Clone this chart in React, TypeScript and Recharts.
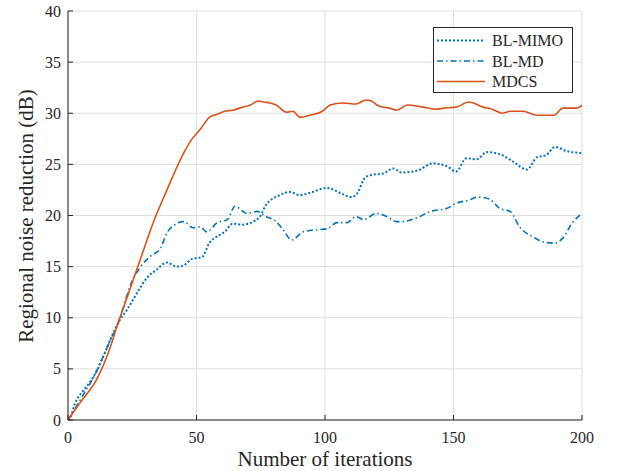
import React from 'react';
import {
  LineChart,
  Line,
  XAxis,
  YAxis,
  CartesianGrid,
} from 'recharts';

// iteration / value pairs
const mimoIter = [0, 1, 2.7, 6, 8.5, 11, 13.7, 17.6, 20.2, 23, 26.8, 30.7, 34.5, 38.4, 42.3, 44.8, 48.7, 52, 55, 59, 61, 64, 68, 72, 74.7, 77, 82.5, 86.4, 90, 94, 100.7, 106, 110, 112, 116, 119, 122.6, 126.5, 130, 136, 142, 147.5, 151, 155, 159, 163, 168, 173, 178.6, 182.5, 186, 189.5, 194, 200];
const mimoVal = [0, 0.3, 1.6, 2.9, 3.7, 4.7, 6.2, 8.5, 9.8, 10.8, 12.4, 13.9, 14.7, 15.4, 15.0, 15.1, 15.8, 15.9, 17.3, 18.1, 18.4, 19.2, 19.1, 19.4, 19.9, 21.0, 22.0, 22.3, 22.0, 22.2, 22.7, 22.2, 21.8, 22.0, 23.8, 24.0, 24.1, 24.6, 24.2, 24.4, 25.1, 24.8, 24.3, 25.6, 25.5, 26.2, 26.0, 25.3, 24.5, 25.7, 25.9, 26.7, 26.3, 26.1];

const mdIter = [0, 3, 6, 10, 14, 17, 19, 21.5, 24, 28, 32, 36, 38.5, 41, 45, 48.7, 51.4, 54, 58, 62, 65, 69.6, 73.5, 77, 81, 84, 87, 91.5, 97, 100.7, 104.7, 108.6, 112, 115, 120, 124, 128, 130, 136, 141, 147.5, 151, 156, 159.5, 164, 168, 172, 176, 181, 185, 189, 192.6, 196, 200];
const mdVal = [0, 1.2, 2.5, 4.2, 6.4, 8.1, 9.1, 11.0, 13.0, 14.9, 16.0, 16.8, 18.3, 19.0, 19.4, 18.8, 18.9, 18.4, 19.3, 19.6, 20.9, 20.2, 20.4, 19.9, 19.4, 18.5, 17.6, 18.4, 18.6, 18.7, 19.3, 19.3, 19.9, 19.6, 20.2, 19.9, 19.4, 19.4, 19.8, 20.4, 20.7, 21.2, 21.5, 21.8, 21.6, 20.7, 20.4, 18.8, 17.9, 17.4, 17.3, 17.8, 19.2, 20.2];

const mdcsIter = [0, 5, 11, 16, 19.5, 23, 28, 33, 38.5, 45, 48, 51.4, 55, 58, 61, 64, 68, 71, 74, 76, 78.6, 81, 85, 87.5, 90.3, 94, 99, 102, 107, 112, 116, 118, 121, 125, 128, 132, 138, 143.5, 146, 151, 156, 161.5, 165, 169, 172, 177, 182.5, 189, 192.6, 198, 200];
const mdcsVal = [0, 1.8, 3.9, 6.8, 9.5, 12.0, 15.6, 19.2, 22.5, 26.1, 27.4, 28.4, 29.6, 29.9, 30.2, 30.3, 30.6, 30.8, 31.2, 31.1, 31.0, 30.8, 30.1, 30.2, 29.6, 29.8, 30.2, 30.8, 31.0, 30.9, 31.3, 31.2, 30.7, 30.5, 30.3, 30.8, 30.6, 30.4, 30.5, 30.6, 31.1, 30.6, 30.4, 30.0, 30.2, 30.2, 29.8, 29.8, 30.5, 30.5, 30.8];

const xTicks = [0, 50, 100, 150, 200];
const yTicks = [0, 5, 10, 15, 20, 25, 30, 35, 40];

const toPoints = (iter: number[], val: number[]) =>
  iter.map((it, i) => ({ iter: it, value: val[i] }));

const BLUE = '#0072BD';
const ORANGE = '#D95319';
const AXIS = '#262626';
const FONT = '"Liberation Serif", "Times New Roman", serif';

const series = [
  { name: 'BL-MIMO', data: toPoints(mimoIter, mimoVal), color: BLUE, dash: '2 2', width: 2 },
  { name: 'BL-MD', data: toPoints(mdIter, mdVal), color: BLUE, dash: '6 3 1.5 3', width: 1.6 },
  { name: 'MDCS', data: toPoints(mdcsIter, mdcsVal), color: ORANGE, dash: undefined, width: 1.6 },
];

const BottomTick = (props: any) => {
  const { x, y, payload } = props;
  return (
    <g>
      <line x1={x} y1={y} x2={x} y2={y - 5} stroke={AXIS} />
      <text x={x} y={y + 23} textAnchor="middle" style={{ fontSize: 16, fontFamily: FONT, fill: AXIS }}>
        {payload.value}
      </text>
    </g>
  );
};

const LeftTick = (props: any) => {
  const { x, y, payload } = props;
  return (
    <g>
      <line x1={x} y1={y} x2={x + 5} y2={y} stroke={AXIS} />
      <text x={x - 7} y={y + 5.5} textAnchor="end" style={{ fontSize: 16, fontFamily: FONT, fill: AXIS }}>
        {payload.value}
      </text>
    </g>
  );
};

const TopTick = (props: any) => (
  <line x1={props.x} y1={props.y} x2={props.x} y2={props.y + 5} stroke={AXIS} />
);

const RightTick = (props: any) => (
  <line x1={props.x} y1={props.y} x2={props.x - 5} y2={props.y} stroke={AXIS} />
);

const LegendBox = () => (
  <svg width={140} height={66} style={{ display: 'block' }}>
    <rect x={0.5} y={0.5} width={139} height={65} fill="#fff" stroke={AXIS} />
    {series.map((s, i) => {
      const cy = 13.5 + i * 20.5;
      return (
        <g key={s.name}>
          <line x1={4} x2={52} y1={cy} y2={cy} stroke={s.color} strokeWidth={s.width} strokeDasharray={s.dash} />
          <text x={59} y={cy + 5.5} style={{ fontSize: 16, fontFamily: FONT, fill: AXIS }}>
            {s.name}
          </text>
        </g>
      );
    })}
  </svg>
);

export default function App() {
  return (
    <div style={{ position: 'absolute', left: 0, top: 0, width: 621, height: 471, background: '#fff' }}>
      <LineChart
        width={621}
        height={471}
        margin={{ top: 11, right: 39, bottom: 0, left: 0 }}
      >
        <CartesianGrid stroke="#dfdfdf" />
        <XAxis
          type="number"
          dataKey="iter"
          domain={[0, 200]}
          ticks={xTicks}
          height={51}
          tickSize={0}
          tickMargin={0}
          tickLine={false}
          axisLine={{ stroke: AXIS }}
          tick={<BottomTick />}
          allowDataOverflow
        />
        <XAxis
          xAxisId="top"
          orientation="top"
          type="number"
          dataKey="iter"
          domain={[0, 200]}
          ticks={xTicks}
          height={0}
          tickSize={0}
          tickMargin={0}
          tickLine={false}
          axisLine={{ stroke: AXIS }}
          tick={<TopTick />}
          allowDataOverflow
        />
        <YAxis
          type="number"
          domain={[0, 40]}
          ticks={yTicks}
          width={68}
          tickSize={0}
          tickMargin={0}
          tickLine={false}
          axisLine={{ stroke: AXIS }}
          tick={<LeftTick />}
          allowDataOverflow
        />
        <YAxis
          yAxisId="right"
          orientation="right"
          type="number"
          domain={[0, 40]}
          ticks={yTicks}
          width={0}
          tickSize={0}
          tickMargin={0}
          tickLine={false}
          axisLine={{ stroke: AXIS }}
          tick={<RightTick />}
          allowDataOverflow
        />
        {series.map((s) => (
          <Line
            key={s.name}
            data={s.data}
            dataKey="value"
            name={s.name}
            type="monotone"
            stroke={s.color}
            strokeWidth={s.width}
            strokeDasharray={s.dash}
            dot={false}
            activeDot={false}
            isAnimationActive={false}
          />
        ))}
        <text x={325} y={466} textAnchor="middle" style={{ fontSize: 21, fontFamily: FONT, fill: AXIS }}>
          Number of iterations
        </text>
        <text
          x={33}
          y={216}
          transform="rotate(-90 33 216)"
          textAnchor="middle"
          style={{ fontSize: 21, fontFamily: FONT, fill: AXIS }}
        >
          Regional noise reduction (dB)
        </text>
      </LineChart>
      <div style={{ position: 'absolute', left: 433, top: 27 }}>
        <LegendBox />
      </div>
    </div>
  );
}
